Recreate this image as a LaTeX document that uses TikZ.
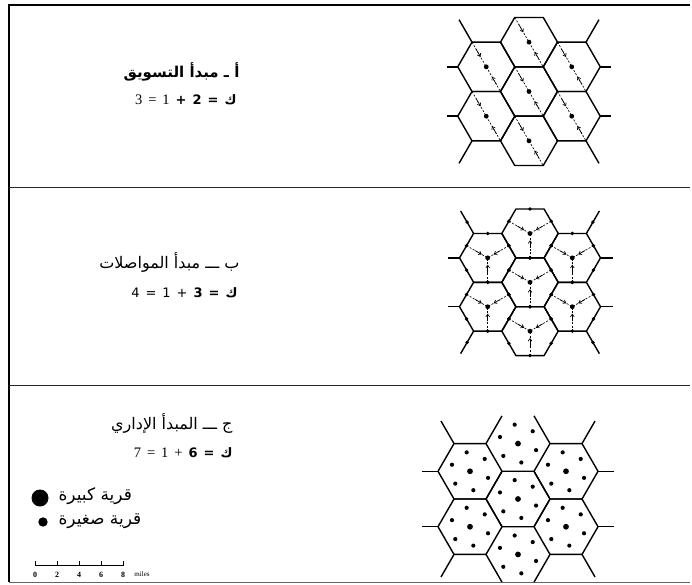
\documentclass[tikz,border=0pt]{standalone}
\usepackage{fontspec}
\usetikzlibrary{calc,arrows.meta}
\newfontfamily\arabicfont[Script=Arabic]{DejaVu Sans}
\newfontfamily\numfont{Liberation Serif}
\TeXXeTstate=1

\tikzset{
  hexline/.style={line width=1.4pt, line join=round},
  route/.style={line width=0.65pt, dash pattern=on 2pt off 1.6pt},
  tipline/.style={line width=0.65pt, -{Straight Barb[length=2.7pt,width=3.8pt]}},
  framebox/.style={line width=1.2pt},
  seprule/.style={line width=1.5pt, draw=black!85},
  titletext/.style={anchor=east, font=\arabicfont\fontsize{16}{18}\selectfont},
  eqtext/.style={anchor=east, font=\arabicfont\fontsize{13}{15}\selectfont},
  legendtext/.style={anchor=west, font=\arabicfont\fontsize{17}{19}\selectfont},
  scalelabel/.style={font=\numfont\bfseries\fontsize{8}{9}\selectfont, inner sep=0.5pt},
}
\newcommand\eqsp{\hspace{6pt}}
\newcommand\numbig{\numfont\fontsize{14.5}{15}\selectfont}

% hexagon: centre x, centre y, R
\newcommand\hexcell[3]{%
  \pgfmathsetmacro\hexH{0.866*#3}%
  \draw[hexline] ({#1+#3},{#2}) -- ({#1+0.5*#3},{#2+\hexH}) -- ({#1-0.5*#3},{#2+\hexH})
    -- ({#1-#3},{#2}) -- ({#1-0.5*#3},{#2-\hexH}) -- ({#1+0.5*#3},{#2-\hexH}) -- cycle;}

% outer stubs: X, Y, R, L (slanted), Ls (horizontal)
\newcommand\hexstubs[5]{%
  \pgfmathsetmacro\hexH{0.866*#3}%
  \draw[hexline] ({#1-2*#3},{#2-2*\hexH}) -- ++({-0.5*#4},{-0.866*#4});
  \draw[hexline] ({#1+2*#3},{#2-2*\hexH}) -- ++({0.5*#4},{-0.866*#4});
  \draw[hexline] ({#1-2*#3},{#2+2*\hexH}) -- ++({-0.5*#4},{0.866*#4});
  \draw[hexline] ({#1+2*#3},{#2+2*\hexH}) -- ++({0.5*#4},{0.866*#4});
  \draw[hexline] ({#1-2.5*#3},{#2-\hexH}) -- ++({-#5},0);
  \draw[hexline] ({#1-2.5*#3},{#2+\hexH}) -- ++({-#5},0);
  \draw[hexline] ({#1+2.5*#3},{#2-\hexH}) -- ++({#5},0);
  \draw[hexline] ({#1+2.5*#3},{#2+\hexH}) -- ++({#5},0);}

\begin{document}
\begin{tikzpicture}[x=1pt,y=-1pt]
\useasboundingbox (0,0) rectangle (692,585);

% ---------- frame ----------
\draw[framebox] (690,5) -- (9,5) -- (9,582);
\draw[line width=0.6pt, draw=black!60] (9,582.5) -- (690,582.5);
\draw[seprule] (9,187.5) -- (690,187.5);
\draw[seprule] (9,385.5) -- (690,385.5);

% ---------- panel 1 : marketing principle ----------
\def\PX{529}\def\PY{91.5}\def\PR{28.5}
\foreach \i/\j in {0/0,0/-2,0/2,-1.5/-1,-1.5/1,1.5/-1,1.5/1}{
  \pgfmathsetmacro\cx{\PX+\i*\PR}
  \pgfmathsetmacro\cy{\PY+\j*0.866*\PR}
  \hexcell{\cx}{\cy}{\PR}
  \coordinate (c) at (\cx,\cy);
  \coordinate (a) at ({\cx-0.5*\PR},{\cy-0.866*\PR});
  \coordinate (b) at ({\cx+0.5*\PR},{\cy+0.866*\PR});
  \draw[route] (a) -- (b);
  \draw[tipline] ($(c)!0.72!(a)$) -- ($(c)!0.4!(a)$);
  \draw[tipline] ($(c)!0.72!(b)$) -- ($(c)!0.4!(b)$);
  \fill (c) circle (2.4pt);
}
\hexstubs{\PX}{\PY}{\PR}{26}{11}

% ---------- panel 2 : transport principle ----------
\def\QX{530}\def\QY{282.3}\def\QR{28.2}
\foreach \i/\j in {0/0,0/-2,0/2,-1.5/-1,-1.5/1,1.5/-1,1.5/1}{
  \pgfmathsetmacro\cx{\QX+\i*\QR}
  \pgfmathsetmacro\cy{\QY+\j*0.866*\QR}
  \hexcell{\cx}{\cy}{\QR}
  \coordinate (c) at (\cx,\cy);
  \coordinate (m1) at ({\cx-0.75*\QR},{\cy-0.433*\QR});
  \coordinate (m2) at ({\cx+0.75*\QR},{\cy-0.433*\QR});
  \coordinate (m3) at ({\cx},{\cy+0.866*\QR});
  \foreach \m in {m1,m2,m3}{
    \draw[route] (\m) -- (c);
    \draw[tipline] ($(c)!0.6!(\m)$) -- ($(c)!0.28!(\m)$);
  }
  \foreach \k in {0,...,5}{
    \fill ({\cx+0.866*\QR*cos(30+60*\k)},{\cy+0.866*\QR*sin(30+60*\k)}) circle (1.9pt);
  }
  \fill (c) circle (2.4pt);
}
\hexstubs{\QX}{\QY}{\QR}{26}{12}
\pgfmathsetmacro\qh{0.866*\QR}
\foreach \sx/\sy in {-1/-1,1/-1,-1/1,1/1}{
  \fill ({\QX+\sx*(2*\QR+6.5)},{\QY+\sy*(2*\qh+11.3)}) circle (1.9pt);
}

% ---------- panel 3 : administrative principle ----------
\def\SX{518}\def\SY{499}\def\SR{32}
\pgfmathsetmacro\sh{0.866*\SR}
\foreach \i/\j in {0/0,-1.5/-1,-1.5/1,1.5/-1,1.5/1}{
  \pgfmathsetmacro\cx{\SX+\i*\SR}
  \pgfmathsetmacro\cy{\SY+\j*\sh}
  \hexcell{\cx}{\cy}{\SR}
}
% partial top and bottom cells
\draw[hexline] ({\SX-\SR},{\SY-2*\sh}) -- ({\SX-0.5*\SR},{\SY-3*\sh});
\draw[hexline] ({\SX+\SR},{\SY-2*\sh}) -- ({\SX+0.5*\SR},{\SY-3*\sh});
\draw[hexline] ({\SX-\SR},{\SY+2*\sh}) -- ({\SX-0.5*\SR},{\SY+3*\sh});
\draw[hexline] ({\SX+\SR},{\SY+2*\sh}) -- ({\SX+0.5*\SR},{\SY+3*\sh});
\hexstubs{\SX}{\SY}{\SR}{26}{16}
\foreach \i/\j in {0/0,0/-2,0/2,-1.5/-1,-1.5/1,1.5/-1,1.5/1}{
  \pgfmathsetmacro\cx{\SX+\i*\SR}
  \pgfmathsetmacro\cy{\SY+\j*\sh}
  \fill (\cx,\cy) circle (2.9pt);
  \foreach \k in {0,...,5}{
    \fill ({\cx+0.6*\SR*cos(-20+60*\k)},{\cy-0.6*\SR*sin(-20+60*\k)}) circle (2.1pt);
  }
}

% ---------- texts ----------
\node[titletext, font=\arabicfont\bfseries\fontsize{15}{17}\selectfont] (t1) at (243,72) {\beginR أ ـ مبدأ التسويق\endR};
\node[eqtext] (e1) at (240,100) {\beginR{\bfseries ك\eqsp=\eqsp2\eqsp+}\eqsp{\numbig 1\eqsp=\eqsp3}\endR};

\node[titletext] (t2) at (243,262) {\beginR ب ـــ مبدأ المواصلات\endR};
\node[eqtext] (e2) at (241,293) {\beginR{\bfseries ك\eqsp=\eqsp3}\eqsp+\eqsp1\eqsp=\eqsp4\endR};

\node[titletext] (t3) at (236,423) {\beginR ج ـــ المبدأ الإداري\endR};
\node[eqtext] (e3) at (236,453) {\beginR{\bfseries ك\eqsp=\eqsp6}\eqsp{\numbig +\eqsp1\eqsp=\eqsp7}\endR};

% legend
\fill (40,498) circle (8.5pt);
\node[legendtext] (l1) at (55,496) {\beginR قرية كبيرة\endR};
\fill (43,522) circle (4.7pt);
\node[legendtext] (l2) at (55,521) {\beginR قرية صغيرة\endR};

% scale bar
\draw[line width=0.8pt] (35,565.5) -- (123,565.5);
\foreach \tx/\tl in {35/0,57/2,79/4,101/6,123/8}{
  \draw[line width=0.8pt] (\tx,565.5) -- (\tx,561);
  \node[scalelabel] (s\tl) at (\tx,574.5) {\tl};
}
\node[font=\numfont\fontsize{7}{8}\selectfont, inner sep=0.5pt] (miles) at (142,574.5) {miles};
\end{tikzpicture}
\end{document}
